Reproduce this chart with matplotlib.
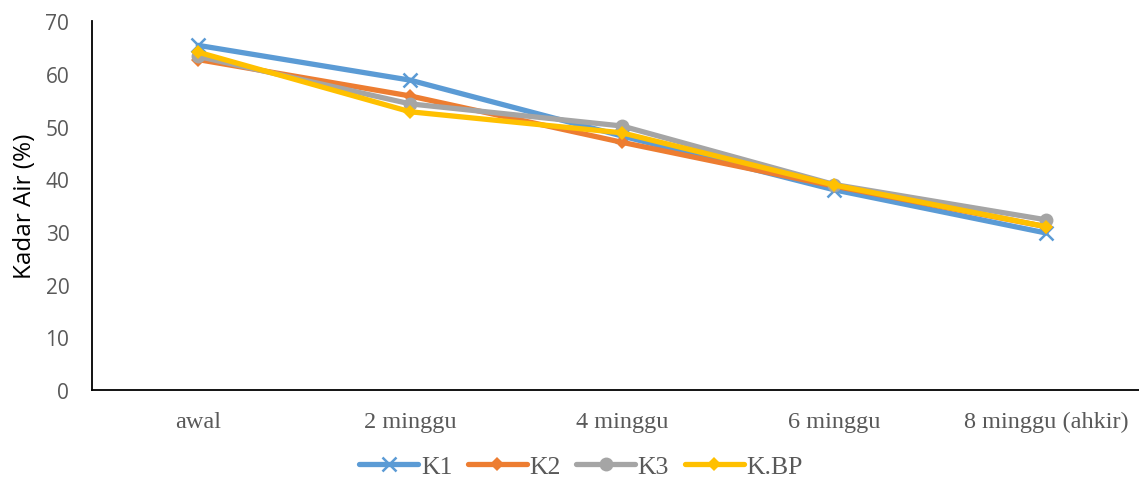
import matplotlib.pyplot as plt
from matplotlib.lines import Line2D

# data: kadar air (%) per waktu pengamatan
waktu = ["awal", "2 minggu", "4 minggu", "6 minggu", "8 minggu (ahkir)"]
k1 = [65.4, 58.8, 48.2, 38.0, 29.8]
k2 = [62.7, 55.8, 47.0, 38.7, 31.0]
k3 = [63.3, 54.3, 50.1, 39.0, 32.3]
kbp = [64.1, 52.8, 48.8, 38.9, 31.0]

series = [
    ("K1", k1, "#5B9BD5", "x", 10),
    ("K2", k2, "#ED7D31", "D", 7),
    ("K3", k3, "#A5A5A5", "o", 10),
    ("K.BP", kbp, "#FFC000", "D", 7),
]

fig = plt.figure(figsize=(11.39, 4.81), dpi=100)
ax = fig.add_axes([0.081, 0.187, 0.919, 0.767])

x = list(range(len(waktu)))
handles = []
for name, vals, col, mk, ms in series:
    ax.plot(x, vals, color=col, lw=3.8, marker=mk, markersize=ms,
            markeredgewidth=1.8 if mk == "x" else 0, solid_joinstyle="round",
            solid_capstyle="round")
    handles.append(Line2D([], [], color=col, lw=3.8, marker=mk, markersize=ms,
                          markeredgewidth=1.8 if mk == "x" else 0,
                          solid_capstyle="round"))

ax.set_ylim(0, 70)
ax.set_xlim(-0.5, -0.5 + (1139 - 92) / 212)
ax.set_yticks(range(0, 71, 10))
ax.set_xticks(x)
ax.set_xticklabels(waktu, family="Liberation Serif", fontsize=17.5, color="#595959")
for lab in ax.get_yticklabels():
    lab.set_family("Open Sans")
    lab.set_fontsize(15)
    lab.set_color("#595959")
ax.tick_params(axis="both", length=0)
ax.tick_params(axis="y", pad=16.5)
ax.tick_params(axis="x", pad=15)

for s in ["top", "right"]:
    ax.spines[s].set_visible(False)
for s in ["left", "bottom"]:
    ax.spines[s].set_linewidth(1.3)
    ax.spines[s].set_color("black")

ax.set_ylabel("Kadar Air (%)", family="Open Sans", fontsize=17.5, labelpad=6)

fig.legend(handles, [s[0] for s in series], loc="center",
           bbox_to_anchor=(0.51, 0.028), ncol=4, frameon=False,
           prop={"family": "Liberation Serif", "size": 18.5},
           handlelength=2.3, handletextpad=0.1, columnspacing=0.6,
           labelcolor="#595959")

fig.savefig("out.png", dpi=100)
